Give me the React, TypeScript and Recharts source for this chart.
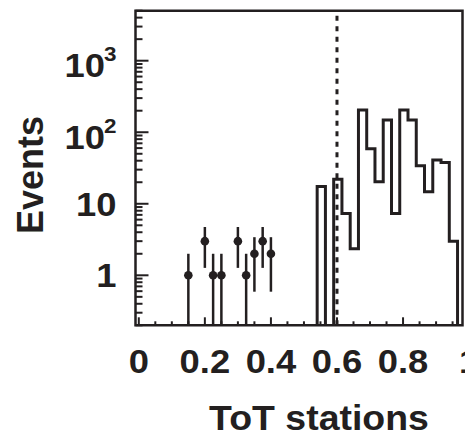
import React from 'react';
import {
  ComposedChart,
  Line,
  Scatter,
  ErrorBar,
  XAxis,
  YAxis,
  ReferenceLine,
  ReferenceArea,
} from 'recharts';

const INK = '#231f20';
const FONT = '"Liberation Sans", Arial, Helvetica, sans-serif';
const SX = 1.07; // horizontal stretch of the reference text

// Histogram: bin edges (ToT stations) and event counts per bin
const histEdges = [
  0.54, 0.565, 0.59, 0.615, 0.64, 0.665, 0.69, 0.715, 0.74, 0.765, 0.79, 0.815,
  0.84, 0.865, 0.89, 0.915, 0.94, 0.965,
];
const histCounts = [
  17.4, 0, 22, 7.3, 2.35, 205, 59, 20.3, 148, 7.3, 205, 148, 34, 14.7, 40.8, 37.8, 3.0,
];

// Data points with Poisson error bars
const pointX = [0.15, 0.2, 0.225, 0.25, 0.3, 0.325, 0.35, 0.375, 0.4];
const pointY = [1, 3, 1, 1, 3, 1, 2, 3, 2];
const pointErrLow = [0.8, 1.73, 0.8, 0.8, 1.73, 0.8, 1.41, 1.73, 1.41];
const pointErrHigh = [1, 1.73, 1, 1, 1.73, 1, 1.41, 1.73, 1.41];

// Cut value (dashed line)
const cutX = 0.6;

// Axes
const xDomain = [-0.01, 0.98];
const yDomain = [0.2, 5000];
const yFloor = 0.05; // empty bins drop below the axis floor
const xTicks = [
  0, 0.05, 0.1, 0.15, 0.2, 0.25, 0.3, 0.35, 0.4, 0.45, 0.5, 0.55, 0.6, 0.65, 0.7,
  0.75, 0.8, 0.85, 0.9, 0.95, 1,
];
const xLabelValues = [0, 0.2, 0.4, 0.6, 0.8, 1];
const xLabelTexts = ['0', '0.2', '0.4', '0.6', '0.8', '1'];
const yTicks = [
  0.2, 0.3, 0.4, 0.5, 0.6, 0.7, 0.8, 0.9, 1, 2, 3, 4, 5, 6, 7, 8, 9, 10, 20, 30, 40,
  50, 60, 70, 80, 90, 100, 200, 300, 400, 500, 600, 700, 800, 900, 1000, 2000, 3000,
  4000, 5000,
];
const yLabelValues = [1, 10, 100, 1000];
const yLabelBase = ['1', '10', '10', '10'];
const yLabelSup = ['', '', '2', '3'];

const xTitle = 'ToT stations';
const yTitle = 'Events';

const stretch = (x: number) => `matrix(${SX} 0 0 1 ${x * (1 - SX)} 0)`;

const XTick = (props: any) => {
  const { x, y, payload } = props;
  const v = payload.value;
  const li = xLabelValues.findIndex((t) => Math.abs(t - v) < 1e-9);
  const major = li >= 0;
  return (
    <g>
      <line x1={x} x2={x} y1={y} y2={y - (major ? 8 : 4)} stroke={INK} strokeWidth={2} />
      {major && (
        <text
          x={x}
          y={y + 48}
          transform={stretch(x)}
          textAnchor="middle"
          fontFamily={FONT}
          fontWeight="bold"
          fontSize={34}
          fill={INK}
        >
          {xLabelTexts[li]}
        </text>
      )}
    </g>
  );
};

const YTick = (props: any) => {
  const { x, y, payload } = props;
  const v = payload.value;
  const li = yLabelValues.findIndex((t) => Math.abs(t - v) < 1e-9);
  const major = li >= 0;
  const sup = major ? yLabelSup[li] : '';
  const tx = x - 19;
  return (
    <g>
      <line x1={x} x2={x + (major ? 13 : 7)} y1={y} y2={y} stroke={INK} strokeWidth={2} />
      {major && (
        <text
          x={tx}
          y={y + (sup ? 16.5 : 12)}
          transform={stretch(tx)}
          textAnchor="end"
          fontFamily={FONT}
          fontWeight="bold"
          fontSize={34}
          fill={INK}
        >
          <tspan>{yLabelBase[li]}</tspan>
          {sup && (
            <tspan dy={-16} dx={-1} fontSize={21}>
              {sup}
            </tspan>
          )}
        </text>
      )}
    </g>
  );
};

export default function App() {
  const histData: { x: number; y: number }[] = [];
  histData.push({ x: histEdges[0], y: yFloor });
  histCounts.forEach((c, i) => {
    histData.push({ x: histEdges[i], y: c > 0 ? c : yFloor });
  });
  histData.push({ x: histEdges[histEdges.length - 1], y: yFloor });

  const pointData = pointX.map((x, i) => ({
    x,
    y: pointY[i],
    err: [pointErrLow[i], pointErrHigh[i]],
  }));

  return (
    <div
      style={{
        position: 'absolute',
        left: 0,
        top: 0,
        width: 465,
        height: 436,
        background: '#ffffff',
        overflow: 'hidden',
      }}
    >
      <ComposedChart
        width={465}
        height={436}
        margin={{ top: 10.7, right: 2.5, bottom: 0, left: 0 }}
      >
        <XAxis
          type="number"
          dataKey="x"
          domain={xDomain}
          allowDataOverflow
          ticks={xTicks}
          interval={0}
          tickSize={0}
          tickMargin={0}
          tickLine={false}
          axisLine={false}
          height={110.7}
          tick={<XTick />}
          label={{
            content: () => (
              <text
                x={319}
                y={430}
                transform={stretch(319)}
                textAnchor="middle"
                fontFamily={FONT}
                fontWeight="bold"
                fontSize={35}
                fill={INK}
              >
                {xTitle}
              </text>
            ),
          }}
        />
        <YAxis
          type="number"
          dataKey="y"
          scale="log"
          domain={yDomain}
          allowDataOverflow
          ticks={yTicks}
          interval={0}
          tickSize={0}
          tickMargin={0}
          tickLine={false}
          axisLine={false}
          width={135.5}
          tick={<YTick />}
          label={{
            content: () => (
              <text
                x={43}
                y={175}
                transform="rotate(-90 43 175)"
                textAnchor="middle"
                fontFamily={FONT}
                fontWeight="bold"
                fontSize={36}
                fill={INK}
              >
                {yTitle}
              </text>
            ),
          }}
        />
        <ReferenceArea
          x1={xDomain[0]}
          x2={xDomain[1]}
          y1={yDomain[0]}
          y2={yDomain[1]}
          fill="none"
          stroke={INK}
          strokeWidth={2.5}
          ifOverflow="visible"
        />
        <Line
          data={histData}
          dataKey="y"
          type="stepAfter"
          stroke={INK}
          strokeWidth={3}
          strokeLinejoin="miter"
          strokeLinecap="butt"
          dot={false}
          activeDot={false}
          isAnimationActive={false}
        />
        <Scatter
          data={pointData}
          dataKey="y"
          fill={INK}
          isAnimationActive={false}
          shape={(p: any) => <circle cx={p.cx} cy={p.cy} r={4.3} fill={INK} />}
        >
          <ErrorBar
            dataKey="err"
            direction="y"
            width={0}
            stroke={INK}
            strokeWidth={2.5}
            isAnimationActive={false}
          />
        </Scatter>
        <ReferenceLine
          x={cutX}
          stroke={INK}
          strokeWidth={3}
          strokeDasharray="5 5.5"
          ifOverflow="visible"
        />
      </ComposedChart>
    </div>
  );
}
